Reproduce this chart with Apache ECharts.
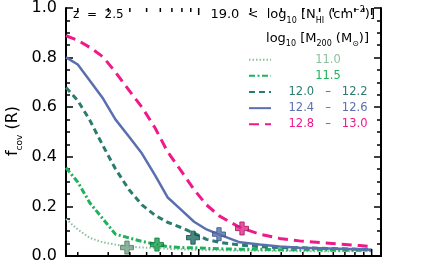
<!DOCTYPE html>
<html><head><meta charset="utf-8">
<script src="https://cdn.jsdelivr.net/npm/echarts@6/dist/echarts.min.js"></script>
<style>html,body{margin:0;padding:0;background:#fff}#c{width:424px;height:264px}</style>
</head><body><div id="c"></div>
<script>
// impact radius (kpc, log axis)
const radius = [17.1, 20, 23.5, 28, 33, 39.5, 47, 56, 66, 79, 94, 111, 132, 173, 225, 293, 383, 500, 653, 851, 1000];
// covering fractions per halo-mass bin
const fcov110 = [0.149, 0.107, 0.073, 0.055, 0.046, 0.038, 0.034, 0.033, 0.029, 0.027, 0.025, 0.023, 0.023, 0.021, 0.021, 0.021, 0.019, 0.019, 0.019, 0.019, 0.019];
const fcov115 = [0.356, 0.298, 0.214, 0.149, 0.088, 0.073, 0.059, 0.048, 0.038, 0.034, 0.033, 0.031, 0.029, 0.027, 0.027, 0.025, 0.025, 0.025, 0.023, 0.023, 0.023];
const fcov120 = [0.679, 0.627, 0.547, 0.444, 0.352, 0.268, 0.206, 0.164, 0.136, 0.115, 0.092, 0.067, 0.055, 0.044, 0.038, 0.034, 0.033, 0.031, 0.029, 0.027, 0.027];
const fcov124 = [0.801, 0.772, 0.707, 0.635, 0.551, 0.482, 0.413, 0.325, 0.237, 0.187, 0.138, 0.107, 0.086, 0.055, 0.046, 0.038, 0.033, 0.031, 0.029, 0.027, 0.025];
const fcov128 = [0.888, 0.870, 0.841, 0.803, 0.742, 0.669, 0.600, 0.516, 0.421, 0.344, 0.268, 0.206, 0.161, 0.115, 0.088, 0.071, 0.061, 0.054, 0.048, 0.042, 0.038];
const seriesNames = ['11.0', '11.5', '12.0   \u2013   12.2', '12.4   \u2013   12.6', '12.8   \u2013   13.0'];
// virial radius markers
const markerRadius = [38.5, 57.4, 92.7, 131, 178];
const markerFcov = [0.034, 0.046, 0.074, 0.088, 0.111];
// axis ticks
const yTickValues = [0, 0.2, 0.4, 0.6, 0.8, 1.0];
const xTickValues = [20, 30, 40, 50, 60, 70, 80, 90, 100, 200, 300, 400, 500, 600, 700, 800, 900, 1000];

const allF = [fcov110, fcov115, fcov120, fcov124, fcov128];
const lineColors = ['#8cbf9e', '#1fb25a', '#2a7c6d', '#5a6fb0', '#f0198c'];
const lineWidths = [2, 3, 3, 2.5, 3];
const lineTypes = [[1.5, 2], [6, 2.5, 2, 2.5], [6, 4], 'solid', [10, 6]];
const markerColors = ['#729f84', '#14a04e', '#1d6b63', '#5470aa', '#e0288a'];
const markerBorders = ['#4d7a5f', '#0b6f33', '#0f4a44', '#34508a', '#a3145f'];
const FONT = '"DejaVu Sans", sans-serif';

const chart = echarts.init(document.getElementById('c'), null, {renderer: 'canvas'});

const series = allF.map((arr, i) => ({
  type: 'line', name: seriesNames[i],
  data: radius.map((r, j) => [r, arr[j]]),
  symbol: 'none', silent: true, z: 2 + i,
  lineStyle: {color: lineColors[i], width: lineWidths[i], type: lineTypes[i]},
  itemStyle: {color: lineColors[i]}
}));
series.push({
  type: 'scatter', z: 10, silent: true,
  symbol: 'path://M4,0H8V4H12V8H8V12H4V8H0V4H4Z', symbolSize: 13,
  data: markerRadius.map((r, i) => ({value: [r, markerFcov[i]], itemStyle: {color: markerColors[i], borderColor: markerBorders[i], borderWidth: 1}}))
});
series.push({
  type: 'custom', silent: true, z: 20,
  data: xTickValues.map(v => [v, 0]),
  renderItem: (params, api) => {
    const v = api.value(0);
    const b = api.coord([v, 0]);
    const t = api.coord([v, 1]);
    const lg = Math.log10(v);
    const len = Math.abs(lg - Math.round(lg)) < 1e-9 ? 7 : 4;
    return {type: 'group', children: [
      {type: 'line', shape: {x1: b[0], y1: b[1], x2: b[0], y2: b[1] - len}, style: {stroke: '#000', lineWidth: 1.5}},
      {type: 'line', shape: {x1: t[0], y1: t[1], x2: t[0], y2: t[1] + len}, style: {stroke: '#000', lineWidth: 1.5}}
    ]};
  }
});

const yAxisBase = {
  type: 'value', min: yTickValues[0], max: yTickValues[yTickValues.length - 1], interval: 0.2,
  axisLine: {show: true, lineStyle: {color: '#000', width: 2}},
  axisTick: {show: true, inside: true, length: 7, lineStyle: {color: '#000', width: 1.5}},
  minorTick: {show: true, splitNumber: 4, length: 4, lineStyle: {color: '#000', width: 1.5}},
  splitLine: {show: false}, minorSplitLine: {show: false}
};
const xAxisBase = {
  type: 'log', logBase: 10, min: 17.1, max: 1132,
  axisLine: {show: true, lineStyle: {color: '#000', width: 2}},
  axisTick: {show: false}, axisLabel: {show: false}, splitLine: {show: false}
};

const rich = {};
lineColors.forEach((c, i) => { rich['c' + i] = {color: c, width: 104, align: 'center', fontSize: 11.5, fontFamily: FONT, lineHeight: 14}; });

chart.setOption({
  animation: false,
  grid: {left: 66, right: 43, top: 1.5, bottom: 1, containLabel: false},
  xAxis: [Object.assign({position: 'bottom'}, xAxisBase), Object.assign({position: 'top'}, xAxisBase)],
  yAxis: [
    Object.assign({position: 'left', axisLabel: {show: true, color: '#000', fontSize: 16, fontFamily: FONT, margin: 9,
      formatter: v => v.toFixed(1)}}, yAxisBase),
    Object.assign({position: 'right', axisLabel: {show: false}}, yAxisBase)
  ],
  legend: {
    orient: 'vertical', left: 248, top: 53.7, padding: 0, itemWidth: 22, itemHeight: 14, itemGap: 4.15,
    data: seriesNames, selectedMode: false,
    itemStyle: {opacity: 0, borderWidth: 0},
    formatter: name => '{c' + seriesNames.indexOf(name) + '|' + name + '}',
    textStyle: {rich: rich, fontFamily: FONT, fontSize: 11.5}
  },
  graphic: [
    {type: 'text', x: 73, y: 15, silent: true, style: {text: 'z  =  2.5', fontSize: 12, fontFamily: FONT, fill: '#000', verticalAlign: 'middle', align: 'left'}},
    {type: 'text', x: 375, y: 15, silent: true, style: {
      text: '{m|19.0  <  log}{s|10}{m| [N}{s|HI}{m| (cm}{p|\u22122}{m|)]}',
      align: 'right', verticalAlign: 'middle', fill: '#000',
      rich: {
        m: {fontSize: 13, fontFamily: FONT, lineHeight: 19, verticalAlign: 'middle', fill: '#000'},
        s: {fontSize: 8, fontFamily: FONT, lineHeight: 8, verticalAlign: 'bottom', fill: '#000'},
        p: {fontSize: 8, fontFamily: FONT, lineHeight: 8, verticalAlign: 'top', fill: '#000'}
      }}},
    {type: 'text', x: 369, y: 38.5, silent: true, style: {
      text: '{m|log}{s|10}{m| [M}{s|200}{m| (M}{s|\u2299}{m|)]}',
      align: 'right', verticalAlign: 'middle', fill: '#000',
      rich: {
        m: {fontSize: 13, fontFamily: FONT, lineHeight: 19, verticalAlign: 'middle', fill: '#000'},
        s: {fontSize: 8, fontFamily: FONT, lineHeight: 8, verticalAlign: 'bottom', fill: '#000'}
      }}},
    {type: 'text', x: 13, y: 131, rotation: Math.PI / 2, silent: true, style: {
      text: '{m|f}{s|cov}{m| (R)}', align: 'center', verticalAlign: 'middle', fill: '#000',
      rich: {
        m: {fontSize: 16, fontFamily: FONT, lineHeight: 22, verticalAlign: 'middle', fill: '#000'},
        s: {fontSize: 9, fontFamily: FONT, lineHeight: 9, verticalAlign: 'bottom', fill: '#000'}
      }}}
  ],
  series: series
});
</script></body></html>
